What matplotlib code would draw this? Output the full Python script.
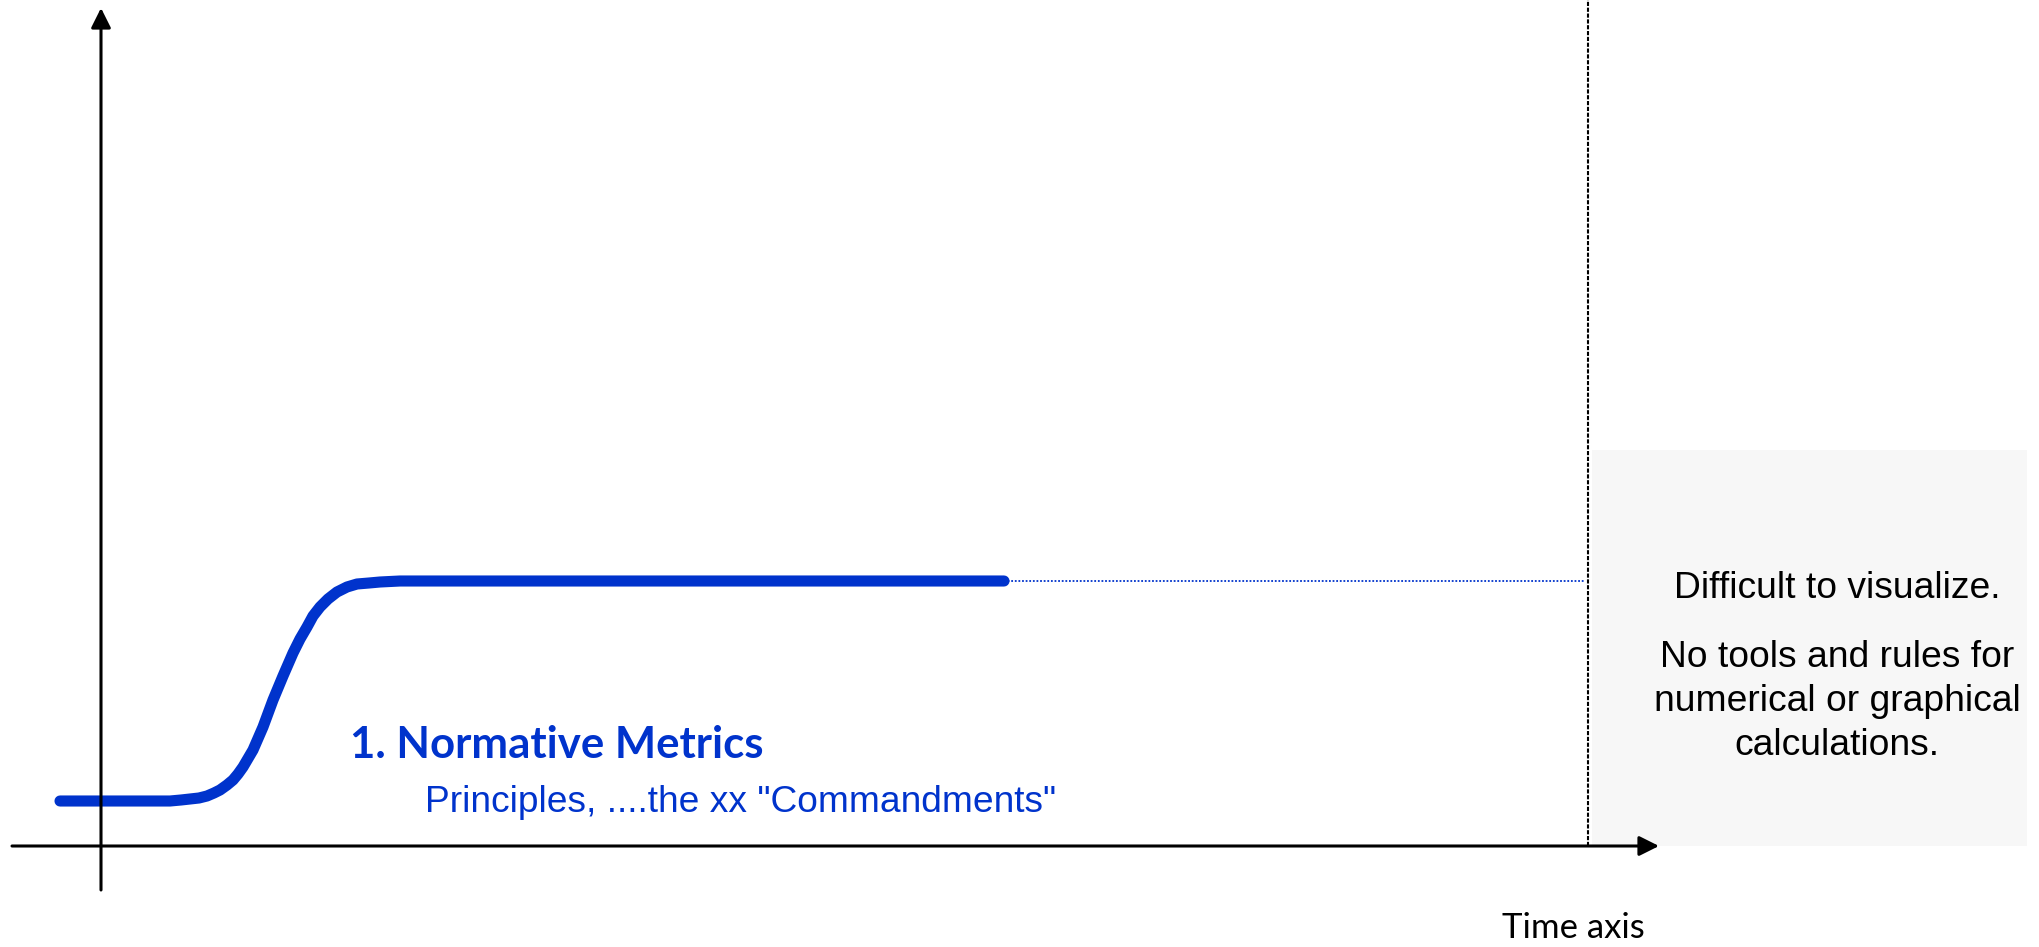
import matplotlib.pyplot as plt

# curve of the normative metrics (time, level)
curve_t = [-41, 69, 80, 89, 98, 106, 113, 119, 126, 132, 137, 142, 152, 162, 172, 182, 192,
           199, 206, 212, 219, 227, 236, 246, 256, 268, 279, 299, 903]
curve_y = [45, 45, 46, 47, 48, 50, 53, 56, 61, 66, 72, 79, 96, 119, 146, 170, 193,
           207, 219, 230, 239, 247, 254, 259, 262, 263, 264, 265, 265]
ext_t = [903, 1484]
ext_y = [265, 265]
limit_t = 1487

title = "1. Normative Metrics"
subtitle = 'Principles, ....the xx "Commandments"'
box_lines = ["Difficult to visualize.", "No tools and rules for", "numerical or graphical", "calculations."]
box_base = [248, 179, 135, 91]
xlabel = "Time axis"

blue = "#0033cc"

fig = plt.figure(figsize=(20.4, 9.47), dpi=100)
ax = fig.add_axes([0, 0, 1, 1])
ax.set_xlim(-101, 1939)
ax.set_ylim(-101, 846)
ax.axis('off')

# grey zone right of the limit
ax.fill_between([1491, 1926], 0, 396, color="#f7f7f7", lw=0, zorder=0)

# axes with arrows
arr = dict(arrowstyle='-|>,head_length=1.0,head_width=0.5', mutation_scale=12,
           lw=2.2, color='black', shrinkA=0, shrinkB=0)
ax.annotate('', xy=(1558, 0), xytext=(-89, 0), arrowprops=arr)
ax.annotate('', xy=(0, 838), xytext=(0, -44), arrowprops=arr)

# limit line
ax.plot([limit_t, limit_t], [0, 846], color='black', lw=1.5, ls=(0, (2, 0.8)))

# curve + extension
ax.plot(ext_t, ext_y, color=blue, lw=1.3, ls=(0, (1, 1)))
ax.plot(curve_t, curve_y, color=blue, lw=8, solid_capstyle='round', solid_joinstyle='round')

ax.text(249, 88, title, color=blue, fontsize=31.5, fontweight='bold', family='Lato', va='baseline')
ax.text(324, 34, subtitle, color=blue, fontsize=26.7, family='Liberation Sans', va='baseline')

for s, b in zip(box_lines, box_base):
    ax.text(1736, b, s, fontsize=26.8, family='Liberation Sans', ha='center', va='baseline')

ax.text(1401, -92, xlabel, fontsize=25, family='Lato', va='baseline')

fig.savefig("out.png", dpi=100)
